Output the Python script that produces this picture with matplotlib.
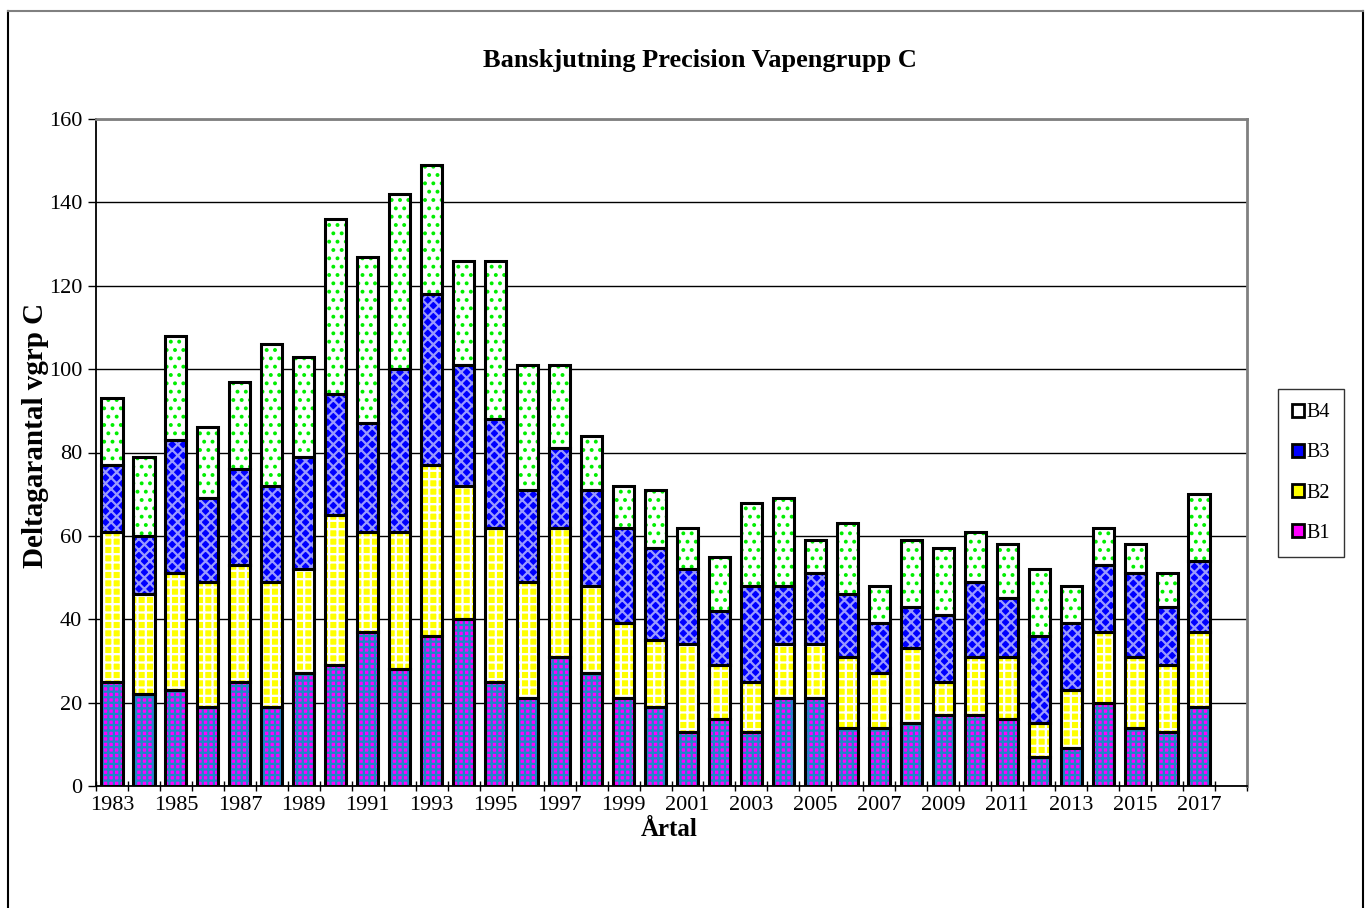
import matplotlib
matplotlib.use("Agg")
import matplotlib.pyplot as plt
from matplotlib.patches import Patch
from matplotlib.lines import Line2D
import numpy as np

years = list(range(1983, 2018))
b1 = [25, 22, 23, 19, 25, 19, 27, 29, 37, 28, 36, 40, 25, 21, 31, 27, 21, 19, 13, 16,
      13, 21, 21, 14, 14, 15, 17, 17, 16, 7, 9, 20, 14, 13, 19]
b2_top = [61, 46, 51, 49, 53, 49, 52, 65, 61, 61, 77, 72, 62, 49, 62, 48, 39, 35, 34, 29,
          25, 34, 34, 31, 27, 33, 25, 31, 31, 15, 23, 37, 31, 29, 37]
b3_top = [77, 60, 83, 69, 76, 72, 79, 94, 87, 100, 118, 101, 88, 71, 81, 71, 62, 57, 52, 42,
          48, 48, 51, 46, 39, 43, 41, 49, 45, 36, 39, 53, 51, 43, 54]
b4_top = [93, 79, 108, 86, 97, 106, 103, 136, 127, 142, 149, 126, 126, 101, 101, 84, 72, 71, 62, 55,
          68, 69, 59, 63, 48, 59, 57, 61, 58, 52, 48, 62, 58, 51, 70]

b2 = [t - b for t, b in zip(b2_top, b1)]
b3 = [t - b for t, b in zip(b3_top, b2_top)]
b4 = [t - b for t, b in zip(b4_top, b3_top)]

series = [("B1", b1), ("B2", b2), ("B3", b3), ("B4", b4)]
styles = {
    "B1": dict(face="#ff00ff", hatch="+++", hcolor="#1f86c8"),
    "B2": dict(face="#ffff00", hatch="++", hcolor="#ffffff"),
    "B3": dict(face="#0000ff", hatch="xxx", hcolor="#9a9aff"),
    "B4": dict(face="#ffffff", hatch="..", hcolor="#00ee00"),
}

plt.rcParams["font.family"] = ["Liberation Serif", "DejaVu Serif"]
plt.rcParams["hatch.linewidth"] = 1.6

W, H = 1370, 908
fig = plt.figure(figsize=(W / 100, H / 100), dpi=100)
L, R, T, B = 96, 1247, 119, 786
ax = fig.add_axes([L / W, 1 - B / H, (R - L) / W, (B - T) / H])

x = np.arange(len(years))
width = 0.66
bottom = np.zeros(len(years))
for name, vals in series:
    st = styles[name]
    vals = np.array(vals, dtype=float)
    ax.bar(x, vals, width, bottom=bottom, color=st["face"], edgecolor=st["hcolor"],
           hatch=st["hatch"], linewidth=0, zorder=3)
    ax.bar(x, vals, width, bottom=bottom, fill=False, edgecolor="black",
           linewidth=2.2, zorder=4)
    bottom += vals

ax.set_xlim(-0.5, len(years) + 0.5)
ax.set_ylim(0, 160)
ax.set_yticks(np.arange(0, 161, 20))
ax.yaxis.grid(True, color="black", linewidth=1.0, zorder=0)
ax.set_axisbelow(True)

ax.set_xticks(np.arange(-0.5, len(years) + 1, 1))
ax.set_xticklabels([])
ax.set_xticks(x[::2], minor=True)
ax.set_xticklabels([str(y) for y in years[::2]], minor=True)
ax.tick_params(axis="x", which="major", length=7, direction="inout", width=1)
ax.tick_params(axis="x", which="minor", length=0, labelsize=16, pad=7)
ax.tick_params(axis="y", length=6, direction="out", labelsize=16, width=1, pad=4)

for s in ["left", "bottom"]:
    ax.spines[s].set_color("black")
    ax.spines[s].set_linewidth(1.3)
ax.spines["top"].set_color("#808080")
ax.spines["right"].set_color("#808080")
ax.spines["top"].set_linewidth(2)
ax.spines["right"].set_linewidth(2)

fig.text(700 / W, 1 - 60 / H, "Banskjutning Precision Vapengrupp C",
         ha="center", va="center", fontsize=19, fontweight="bold")
fig.text(669 / W, 1 - 830 / H, "Årtal", ha="center", va="center",
         fontsize=18, fontweight="bold")
fig.text(36 / W, 1 - 435 / H, "Deltagarantal vgrp C", ha="center", va="center",
         rotation=90, fontsize=21, fontweight="bold")

handles = []
for name in ["B4", "B3", "B2", "B1"]:
    st = styles[name]
    handles.append(Patch(facecolor=st["face"], edgecolor="black", linewidth=2, label=name))
leg = fig.legend(handles=handles, loc="center", bbox_to_anchor=(1311 / W, 1 - 473 / H),
                 frameon=True, fancybox=False, edgecolor="black", fontsize=14.5,
                 handlelength=0.6, handleheight=0.6, handletextpad=0.15,
                 labelspacing=1.05, borderpad=0.7, borderaxespad=0)
leg.get_frame().set_linewidth(1)

# outer chart border
fig.add_artist(Line2D([8 / W, 8 / W], [0, 1 - 11 / H], transform=fig.transFigure,
                      color="black", linewidth=1.5))
fig.add_artist(Line2D([1363 / W, 1363 / W], [0, 1 - 11 / H], transform=fig.transFigure,
                      color="black", linewidth=1.5))
fig.add_artist(Line2D([8 / W, 1363 / W], [1 - 11 / H, 1 - 11 / H], transform=fig.transFigure,
                      color="#808080", linewidth=1.5))

fig.savefig("out.png", dpi=100)
